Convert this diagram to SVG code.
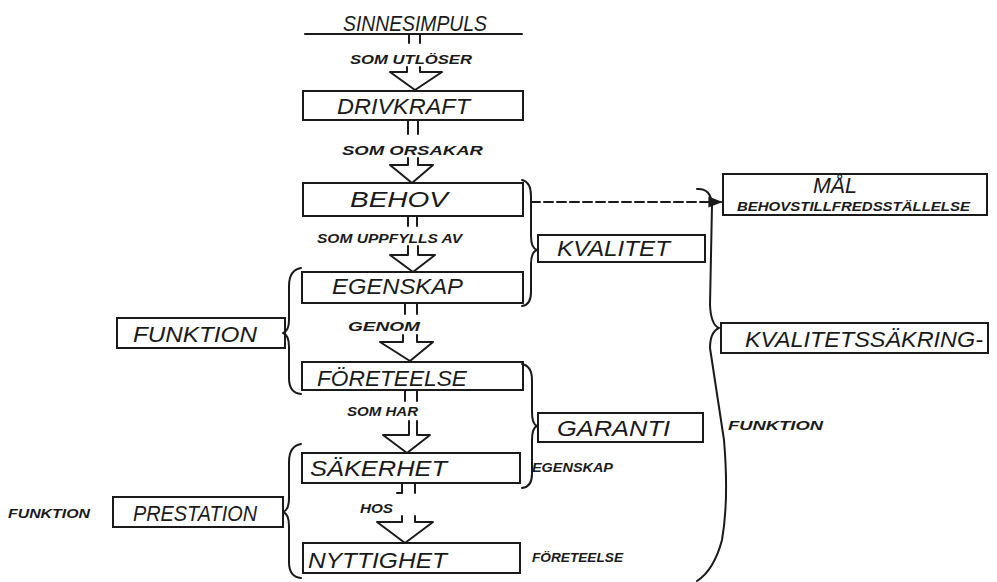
<svg xmlns="http://www.w3.org/2000/svg" width="997" height="582" viewBox="0 0 997 582">
<defs>
<style>
.bx{fill:none;stroke:#1a1a1a;stroke-width:2}
.ln{fill:none;stroke:#1a1a1a;stroke-width:2;stroke-linejoin:round;stroke-linecap:round}
.big{font-family:"Liberation Sans",Arial,sans-serif;font-style:italic;font-size:22px;fill:#1a1a1a}
.sm{font-family:"Liberation Sans",Arial,sans-serif;font-style:italic;font-weight:bold;font-size:12px;fill:#1a1a1a}
</style>
<marker id="ah" viewBox="0 0 10 10" refX="9" refY="5" markerWidth="7" markerHeight="7" orient="auto">
<path d="M0,1 L10,5 L0,9 z" fill="#1a1a1a"/>
</marker>
</defs>
<rect width="997" height="582" fill="#ffffff"/>

<g id="sinnesimpuls">
<text class="big" x="343" y="31" textLength="144" lengthAdjust="spacingAndGlyphs">SINNESIMPULS</text>
<line class="ln" x1="305" y1="34" x2="522" y2="34"/>
</g>

<g id="drivkraft">
<rect class="bx" x="303" y="91" width="220" height="29"/>
<text class="big" x="337" y="114" textLength="133" lengthAdjust="spacingAndGlyphs">DRIVKRAFT</text>
</g>

<g id="behov">
<rect class="bx" x="303" y="183" width="220" height="33"/>
<text class="big" x="350" y="207" textLength="98" lengthAdjust="spacingAndGlyphs">BEHOV</text>
</g>

<g id="egenskap">
<rect class="bx" x="302" y="272" width="221" height="31"/>
<text class="big" x="332" y="294" textLength="131" lengthAdjust="spacingAndGlyphs">EGENSKAP</text>
</g>

<g id="foreteelse">
<rect class="bx" x="302" y="362" width="221" height="28"/>
<text class="big" x="317" y="386" textLength="150" lengthAdjust="spacingAndGlyphs">FÖRETEELSE</text>
</g>

<g id="sakerhet">
<rect class="bx" x="302" y="453" width="218" height="30"/>
<text class="big" x="310" y="476" textLength="137" lengthAdjust="spacingAndGlyphs">SÄKERHET</text>
</g>

<g id="nyttighet">
<rect class="bx" x="303" y="543" width="217" height="30"/>
<text class="big" x="308" y="568" textLength="139" lengthAdjust="spacingAndGlyphs">NYTTIGHET</text>
</g>

<g id="funktion-box">
<rect class="bx" x="117" y="318" width="168" height="30"/>
<text class="big" x="133" y="342" textLength="124" lengthAdjust="spacingAndGlyphs">FUNKTION</text>
</g>

<g id="prestation">
<rect class="bx" x="113" y="497" width="170" height="30"/>
<text class="big" x="133" y="521" textLength="124" lengthAdjust="spacingAndGlyphs">PRESTATION</text>
<text class="sm" x="8" y="518" textLength="82" lengthAdjust="spacingAndGlyphs">FUNKTION</text>
</g>

<g id="kvalitet">
<rect class="bx" x="538" y="235" width="167" height="27"/>
<text class="big" x="557" y="256" textLength="113" lengthAdjust="spacingAndGlyphs">KVALITET</text>
</g>

<g id="garanti">
<rect class="bx" x="538" y="413" width="165" height="29"/>
<text class="big" x="557" y="436" textLength="113" lengthAdjust="spacingAndGlyphs">GARANTI</text>
</g>

<g id="mal">
<rect class="bx" x="723" y="174" width="264" height="41"/>
<text class="big" x="813" y="193" textLength="44" lengthAdjust="spacingAndGlyphs">MÅL</text>
<text class="sm" x="737" y="211" font-size="13" textLength="233" lengthAdjust="spacingAndGlyphs">BEHOVSTILLFREDSSTÄLLELSE</text>
</g>

<g id="kvalitetssakring">
<rect class="bx" x="721" y="323" width="267" height="30"/>
<text class="big" x="745" y="347" textLength="238" lengthAdjust="spacingAndGlyphs">KVALITETSSÄKRING-</text>
</g>

<g id="side-labels">
<text class="sm" x="728" y="430" textLength="95" lengthAdjust="spacingAndGlyphs">FUNKTION</text>
<text class="sm" x="532" y="472" textLength="81" lengthAdjust="spacingAndGlyphs">EGENSKAP</text>
<text class="sm" x="532" y="562" textLength="91" lengthAdjust="spacingAndGlyphs">FÖRETEELSE</text>
</g>

<g id="connectors">
<!-- 1 -->
<path class="ln" d="M409 34 V43 M420 34 V43"/>
<text class="sm" x="350" y="64" textLength="122" lengthAdjust="spacingAndGlyphs">SOM UTLÖSER</text>
<path class="ln" d="M407 67 V72 H390 L415 90 L442 72 H420 V67"/>
<!-- 2 -->
<path class="ln" d="M408 120 V134 M418 120 V134"/>
<text class="sm" x="342" y="155" textLength="141" lengthAdjust="spacingAndGlyphs">SOM ORSAKAR</text>
<path class="ln" d="M408 158 V165 H390 L412 183 L433 165 H418 V158"/>
<!-- 3 -->
<path class="ln" d="M408 216 V226 M417 216 V226"/>
<text class="sm" x="317" y="243" textLength="145" lengthAdjust="spacingAndGlyphs">SOM UPPFYLLS AV</text>
<path class="ln" d="M408 246 V255 H390 L413 272 L435 255 H418 V246"/>
<!-- 4 -->
<path class="ln" d="M405 303 V314 M417 303 V314"/>
<text class="sm" x="348" y="331" textLength="72" lengthAdjust="spacingAndGlyphs">GENOM</text>
<path class="ln" d="M403 335 V342 H380 L410 361 L433 342 H417 V335"/>
<!-- 5 -->
<path class="ln" d="M405 390 V401 M417 390 V401"/>
<text class="sm" x="347" y="416" textLength="71" lengthAdjust="spacingAndGlyphs">SOM HAR</text>
<path class="ln" d="M409 421 V435 H383 L407 453 L430 435 H417 V421"/>
<!-- 6 -->
<path class="ln" d="M402 483 V493 H397 M415 483 V493"/>
<text class="sm" x="360" y="513" textLength="33" lengthAdjust="spacingAndGlyphs">HOS</text>
<path class="ln" d="M402 516 V522 H377 L405 543 L433 522 H415 V516"/>
<!-- braces -->
<path class="ln" d="M522 180 Q531 182 531 196 L531 236 Q531 248 537 250 Q531 252 531 264 L531 292 Q531 305 522 306"/>
<path class="ln" d="M522 364 Q532 366 532 380 L532 412 Q532 424 537 426 Q532 428 532 440 L532 474 Q532 487 522 488"/>
<path class="ln" d="M301 268 Q289 270 289 286 L289 320 Q289 331 283 333 Q289 335 289 347 L289 378 Q289 393 301 394"/>
<path class="ln" d="M301 444 Q289 446 289 462 L289 498 Q289 510 283 512 Q289 514 289 526 L289 562 Q289 577 301 578"/>
<path class="ln" d="M697 189 Q711 188 712 205 L710 305 Q711 325 719 328 Q710 332 710 348 L724 440 Q729 500 722 540 Q714 570 697 581"/>
<!-- dashed -->
<line class="ln" x1="531" y1="202" x2="721" y2="202" stroke-dasharray="9 4" marker-end="url(#ah)"/>
</g>
</svg>
